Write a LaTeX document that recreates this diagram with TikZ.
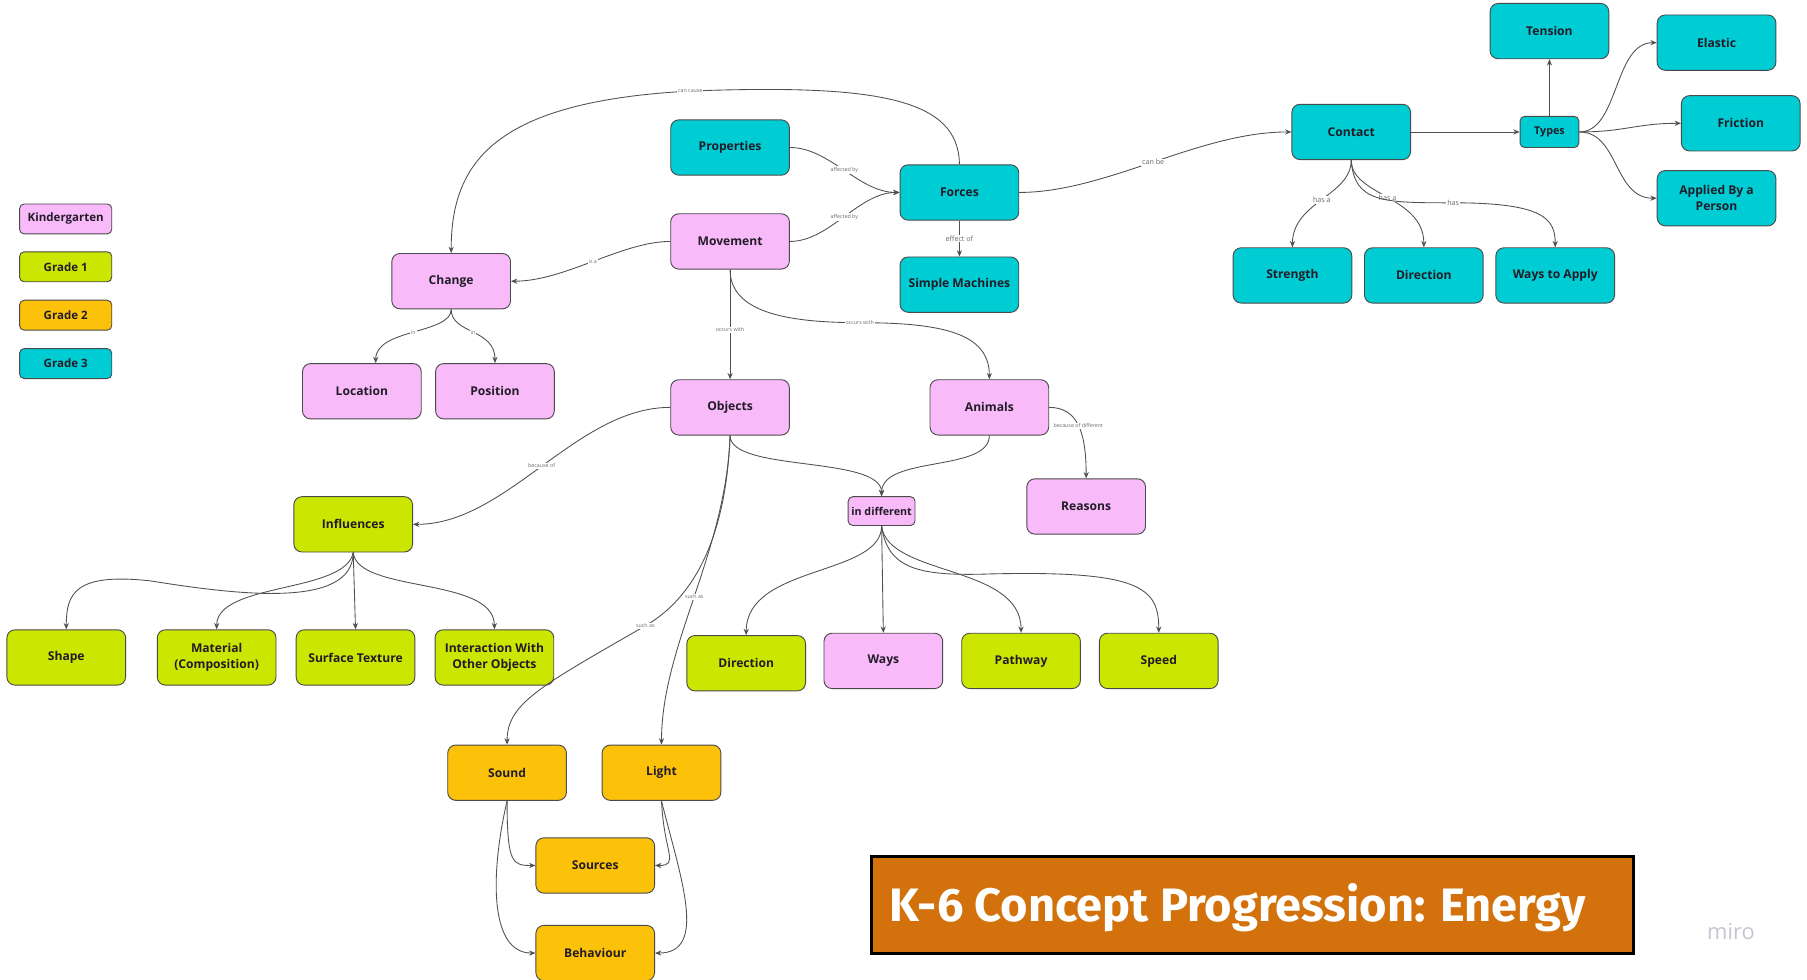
\documentclass[tikz,border=0pt]{standalone}
\usepackage{fontspec}
\setmainfont{Open Sans}
\newfontfamily\titlefont{Fira Sans}
\usetikzlibrary{arrows.meta,calc}
\definecolor{kpink}{HTML}{F9BAF9}
\definecolor{glime}{HTML}{CBE600}
\definecolor{gyel}{HTML}{FCC20A}
\definecolor{gcyan}{HTML}{00CCD3}
\definecolor{ttl}{HTML}{D3720C}
\definecolor{edgec}{HTML}{505050}
\definecolor{txt}{HTML}{221C28}
\definecolor{bord}{HTML}{4A4A4A}
\definecolor{lblc}{HTML}{6A6A6A}
\definecolor{miroc}{HTML}{C4C6D0}
\begin{document}
\begin{tikzpicture}[x=1pt,y=-1pt,
  nbox/.style={draw=bord, line width=0.8pt, rounded corners=7pt, minimum width=103pt, minimum height=48pt, align=center, font=\fontsize{10.5}{14}\selectfont\bfseries, text=txt, inner sep=1pt},
  kbox/.style={nbox, fill=kpink},
  gonebox/.style={nbox, fill=glime},
  gtwobox/.style={nbox, fill=gyel},
  gthreebox/.style={nbox, fill=gcyan},
  legbox/.style={minimum width=80pt, minimum height=26pt, rounded corners=4pt, font=\fontsize{10}{12}\selectfont\bfseries},
  smallbox/.style={minimum height=26pt, rounded corners=4pt, font=\fontsize{9.3}{11}\selectfont\bfseries},
  conn/.style={draw=edgec, line width=0.75pt, -{Stealth[length=5.5pt,width=4.5pt]}},
  lbl/.style={fill=white, inner sep=0.8pt, text=lblc, font=\fontsize{4.6}{5}\selectfont},
  lblb/.style={lbl, font=\fontsize{6.2}{7}\selectfont},
]
\fill[white] (0,0) rectangle (1568,850);
\useasboundingbox (0,0) rectangle (1568,850);

% legend
\node[kbox, legbox] (lk) at (57,190) {Kindergarten};
\node[gonebox, legbox] (lg1) at (57,231.5) {Grade 1};
\node[gtwobox, legbox] (lg2) at (57,273.5) {Grade 2};
\node[gthreebox, legbox] (lg3) at (57,315.5) {Grade 3};

% grade 3 cluster
\node[gthreebox] (tension) at (1344.5,27) {Tension};
\node[gthreebox] (elastic) at (1489.5,37) {Elastic};
\node[gthreebox] (friction) at (1510.5,107) {Friction};
\node[gthreebox] (applied) at (1489.5,172) {Applied By a\\Person};
\node[gthreebox, smallbox, minimum width=51pt, minimum height=27pt] (types) at (1344.5,114.5) {Types};
\node[gthreebox] (contact) at (1172.5,114.5) {Contact};
\node[gthreebox] (strength) at (1121.5,239) {Strength};
\node[gthreebox] (dirthree) at (1235.5,239) {Direction};
\node[gthreebox] (waysapply) at (1349.5,239) {Ways to Apply};
\node[gthreebox] (properties) at (633.5,128) {Properties};
\node[gthreebox] (forces) at (832.5,167) {Forces};
\node[gthreebox] (simple) at (832.5,247) {Simple Machines};

% kindergarten
\node[kbox] (movement) at (633.5,209.5) {Movement};
\node[kbox] (change) at (391.5,244) {Change};
\node[kbox] (location) at (314,339.5) {Location};
\node[kbox] (position) at (429.5,339.5) {Position};
\node[kbox] (objects) at (633.5,353.5) {Objects};
\node[kbox] (animals) at (858.5,353.5) {Animals};
\node[kbox] (reasons) at (942.5,439.5) {Reasons};
\node[kbox, smallbox, minimum width=58pt, minimum height=25pt] (indiff) at (765,443.5) {in different};
\node[kbox] (ways) at (766.5,573.5) {Ways};

% grade 1
\node[gonebox] (influences) at (306.5,455) {Influences};
\node[gonebox] (shape) at (57.5,570.5) {Shape};
\node[gonebox] (material) at (188,570.5) {Material\\(Composition)};
\node[gonebox] (surface) at (308.5,570.5) {Surface Texture};
\node[gonebox] (interaction) at (429,570.5) {Interaction With\\Other Objects};
\node[gonebox] (dirone) at (647.5,575.5) {Direction};
\node[gonebox] (pathway) at (886,573.5) {Pathway};
\node[gonebox] (speed) at (1005.5,573.5) {Speed};

% grade 2
\node[gtwobox] (sound) at (440,670.5) {Sound};
\node[gtwobox] (light) at (574,670.5) {Light};
\node[gtwobox] (sources) at (516.5,751) {Sources};
\node[gtwobox] (behaviour) at (516.5,827) {Behaviour};

% connectors
\draw[conn] (forces.north) .. controls (832,85) and (760,73) .. (599,79) node[lbl] {can cause} .. controls (430,88) and (391.5,140) .. (change.north);
\draw[conn] (properties.east) .. controls (720,128) and (745,167) .. node[lbl, pos=0.5] {affected by} (forces.west);
\draw[conn] (movement.east) .. controls (720,209.5) and (745,167) .. node[lbl, pos=0.5] {affected by} (forces.west);
\draw[conn] (forces.south) -- node[lblb] {effect of} (simple.north);
\draw[conn] (forces.east) .. controls (960,167) and (1040,114.5) .. node[lblb, pos=0.5] {can be} (contact.west);
\draw[conn] (contact.east) -- (types.west);
\draw[conn] (types.north) -- (tension.south);
\draw[conn] (types.east) .. controls (1405,114.5) and (1400,37) .. (elastic.west);
\draw[conn] (types.east) .. controls (1410,114.5) and (1420,107) .. (friction.west);
\draw[conn] (types.east) .. controls (1405,114.5) and (1400,172) .. (applied.west);
\draw[conn] (contact.south) .. controls (1172.5,170) and (1121.5,175) .. node[lblb, pos=0.5] {has a} (strength.north);
\draw[conn] (contact.south) .. controls (1172.5,170) and (1235.5,170) .. node[lblb, pos=0.5] {has a} (dirthree.north);
\draw[conn] (contact.south) .. controls (1175,176) and (1200,176) .. (1261,176) node[lblb] {has} .. controls (1340,176) and (1349.5,190) .. (waysapply.north);
\draw[conn] (movement.west) .. controls (540,209.5) and (490,244) .. node[lbl, pos=0.5] {is a} (change.east);
\draw[conn] (change.south) .. controls (391.5,290) and (326,285) .. node[lbl, pos=0.5] {in} ($(location.north)+(12,0)$);
\draw[conn] (change.south) .. controls (391.5,290) and (429.5,285) .. node[lbl, pos=0.5] {in} (position.north);
\draw[conn] (movement.south) -- node[lbl, pos=0.55] {occurs with} (objects.north);
\draw[conn] (movement.south) .. controls (633.5,270) and (680,280) .. (746,280) node[lbl] {occurs with} .. controls (820,280) and (858.5,290) .. (animals.north);
\draw[conn] (objects.west) .. controls (500,353.5) and (440,455) .. node[lbl, pos=0.5] {because of} (influences.east);
\draw[conn] (objects.south) .. controls (633.5,410) and (765,395) .. (indiff.north);
\draw[conn] (animals.south) .. controls (858.5,410) and (765,395) .. (indiff.north);
\draw[conn] (animals.east) .. controls (935,353.5) and (942.5,375) .. node[lbl, pos=0.5] {because of different} (reasons.north);
\draw[conn] (objects.south) .. controls (630,470) and (600,520) .. (560,543) node[lbl] {such as} .. controls (470,595) and (440,610) .. (sound.north);
\draw[conn] (objects.south) .. controls (630,480) and (574,560) .. node[lbl, pos=0.5] {such as} (light.north);
\draw[conn] (influences.south) .. controls (306.5,530) and (200,515) .. (130,504) .. controls (65,497) and (57.5,515) .. (shape.north);
\draw[conn] (influences.south) .. controls (300,515) and (188,505) .. (material.north);
\draw[conn] (influences.south) -- (surface.north);
\draw[conn] (influences.south) .. controls (310,515) and (429,500) .. (interaction.north);
\draw[conn] (indiff.south) .. controls (765,500) and (647.5,490) .. (dirone.north);
\draw[conn] (indiff.south) -- (ways.north);
\draw[conn] (indiff.south) .. controls (770,500) and (886,490) .. (pathway.north);
\draw[conn] (indiff.south) .. controls (770,495) and (800,500) .. (860,498) .. controls (990,495) and (1005.5,510) .. (speed.north);
\draw[conn] (sound.south) .. controls (440,750) and (445,751) .. (sources.west);
\draw[conn] (sound.south) .. controls (425,760) and (425,827) .. (behaviour.west);
\draw[conn] (light.south) .. controls (576,740) and (590,751) .. (sources.east);
\draw[conn] (light.south) .. controls (590,760) and (615,827) .. (behaviour.east);

% title
\node[draw=black, line width=2.5pt, fill=ttl, minimum width=661pt, minimum height=84pt, anchor=north west, inner sep=0pt] (title) at (755,742) {};
\node[anchor=base west, text=white, inner sep=0pt] (titletext) at (772,800) {\resizebox{604pt}{33pt}{\titlefont\bfseries K-6 Concept Progression: Energy}};
\node[text=miroc, font=\fontsize{19}{20}\selectfont, inner sep=0pt] (miro) at (1502,808) {miro};
\end{tikzpicture}
\end{document}
